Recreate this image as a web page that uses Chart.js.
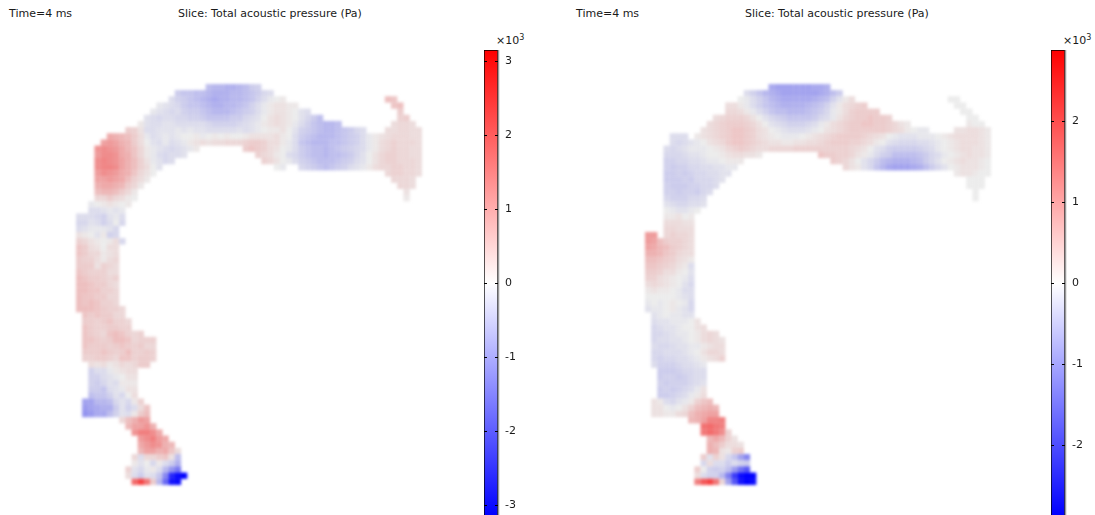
<!DOCTYPE html>
<html>
<head>
<meta charset="utf-8">
<script src="https://cdn.jsdelivr.net/npm/chart.js@4"></script>
<style>
    html, body { margin: 0; background: #fff; width: 1095px; height: 515px; overflow: hidden; }
    canvas { position: absolute; }
    .heat { filter: blur(1.6px); }
    .label { position: absolute; font: 11px "DejaVu Sans", sans-serif; color: #1a1a1a; white-space: nowrap; line-height: 13px; }
    .label sup { font-size: 8px; line-height: 0; vertical-align: 4px; }
</style>
</head>
<body>
<div class="label" style="left:9px;top:7px">Time=4 ms</div>
<div class="label" style="left:178px;top:7px">Slice: Total acoustic pressure (Pa)</div>
<div class="label" style="left:576px;top:7px">Time=4 ms</div>
<div class="label" style="left:745px;top:7px">Slice: Total acoustic pressure (Pa)</div>
<div class="label" style="left:496px;top:34px">×10<sup>3</sup></div>
<div class="label" style="left:1063px;top:34px">×10<sup>3</sup></div>

<canvas id="leftHeat" class="heat" width="346" height="401" style="left:75.5px;top:84.3px"></canvas>
<canvas id="rightHeat" class="heat" width="346" height="401" style="left:645px;top:84.3px"></canvas>
<canvas id="leftBar" width="60" height="480" style="left:484px;top:40px"></canvas>
<canvas id="rightBar" width="60" height="480" style="left:1051px;top:40px"></canvas>

<script>
// --- Data: pressure in units of 100 Pa, one run of mesh cells per entry ---
const gridCols = 56;
const gridRows = 65;

const leftTicks = [3, 2, 1, 0, -1, -2, -3];
const rightTicks = [2, 1, 0, -1, -2];
const leftRange = 3.15;
const rightRange = 2.877;

const leftRowIdx = [0, 1, 2, 2, 3, 3, 4, 4, 5, 5, 6, 6, 7, 7, 8, 9, 10, 10, 11, 11, 12, 12, 13, 13, 13, 14, 14, 15, 15, 16, 16, 17, 17, 18, 18,
    19, 20, 21, 22, 23, 24, 25, 26, 27, 28, 29, 30, 31, 32, 33, 34, 35, 36, 37, 38, 39, 40, 41, 42, 43, 44, 45, 46, 47, 48, 49, 50, 51, 52, 53,
    54, 55, 56, 57, 58, 59, 60, 61, 62, 63, 64];
const leftColIdx = [21, 16, 15, 50, 13, 51, 12, 52, 11, 52, 10, 51, 8, 50, 5, 4, 3, 27, 3, 29, 3, 30, 3, 32, 36, 3, 50, 3, 51, 3, 52, 3, 53, 3, 53,
    2, 2, 0, 0, 0, 0, 0, 0, 0, 0, 0, 0, 0, 0, 0, 0, 0, 0, 1, 1, 1, 1, 1, 1, 1, 1, 2, 2, 2, 2, 2, 2, 1, 1, 1,
    7, 8, 9, 10, 10, 10, 9, 9, 8, 8, 9];
const leftValues = [
    [-8,-9,-9,-10,-10,-9,-8,-6,-5],
    [-6,-7,-7,-8,-8,-9,-10,-10,-10,-9,-9,-8,-7,-6,-4,-3],
    [-3,-5,-6,-7,-8,-9,-10,-11,-10,-10,-9,-9,-8,-7,-5,-3,-1,0,1],
    [8,7],
    [-1,-2,-3,-4,-6,-7,-7,-8,-9,-10,-10,-9,-9,-8,-7,-5,-3,-1,1,2,2,1,1],
    [7,8],
    [-1,-2,-3,-4,-3,-5,-6,-6,-7,-8,-9,-9,-9,-8,-7,-6,-5,-3,-1,1,2,2,1,0,-2,-3],
    [6],
    [-2,-3,-4,-3,-3,-4,-4,-5,-5,-6,-7,-7,-7,-7,-6,-6,-4,-3,-2,0,2,3,2,1,0,-2,-4,-6,-8],
    [5,6],
    [1,-2,-3,-3,-2,-2,-3,-3,-3,-3,-3,-4,-5,-5,-5,-5,-4,-3,-2,-1,1,2,3,2,1,-1,-3,-5,-7,-8,-9,-9,-8],
    [3,4,4,3],
    [6,5,2,-3,-3,-2,-2,-2,-1,-2,-1,-2,-2,-3,-3,-3,-3,-3,-2,-3,-2,-1,0,1,1,2,0,-2,-5,-6,-7,-8,-9,-9,-8,-7,-6,-4,-3],
    [3,3,4,4,3,3],
    [11,10,9,8,6,3,-1,-3,-2,-1,-2,-1,0,0,1,-1,0,1,0,1,0,0,1,2,2,2,2,3,1,0,-3,-6,-7,-8,-9,-9,-9,-8,-7,-6,-5,-3,-1,1,2,3,4,4,4,3,3],
    [12,13,12,10,9,6,3,0,-2,-3,-1,-3,-2,-1,1,2,3,2,3,3,4,4,4,5,6,6,5,3,3,1,-1,-3,-7,-8,-9,-9,-9,-8,-8,-7,-6,-5,-3,-1,1,3,4,5,4,4,4,3],
    [14,15,14,13,11,9,7,4,1,-1,-2,-3,-4,-3,-2,-1,1],
    [6,7,6,5,3,2,0,-1,-3,-6,-7,-8,-8,-9,-8,-7,-6,-5,-4,-3,-1,1,3,4,5,4,4,3,3],
    [13,15,15,14,11,10,7,4,1,-1,-3,-4,-3,-3,-2],
    [5,4,3,1,0,-3,-4,-6,-7,-8,-8,-9,-8,-8,-7,-6,-4,-2,0,2,4,5,5,4,4,3,3],
    [15,16,15,14,12,10,8,5,2,-1,-2,-4,-3],
    [5,4,2,0,-1,-3,-5,-6,-7,-8,-8,-8,-7,-6,-5,-3,-2,0,2,4,5,5,4,4,4,3],
    [15,16,16,15,12,10,8,5,3,0,-2],
    [0,-1],
    [-4,-5,-6,-7,-8,-7,-6,-5,-3,-2,-1,1,3,4,4,5,5,4,4,3],
    [13,15,14,13,11,10,7,4,2,0],
    [4,5,5,4,4,3],
    [12,12,13,12,11,8,5,3,1],
    [4,4,4,3],
    [10,11,11,10,9,6,4,1],
    [4,4,3],
    [8,9,9,8,6,4,1],
    [2],
    [4,4,6,4,3,1,0],
    [1],
    [-1,0,1,2,1,0,1],
    [-3,-3,-2,-1,-2,-1],
    [-3,-3,-3,-4,-5,-2,-1,-3],
    [-4,-4,-2,-3,-5,-3,0,-4],
    [-3,-2,-1,-1,-1,-2,-4],
    [2,1,0,-2,1,-5,-4],
    [5,4,2,1,0,1,3,-4],
    [7,6,3,2,0,3,3],
    [7,6,4,4,1,2,3],
    [6,5,5,3,1,3,4],
    [6,6,6,2,5,4,3],
    [7,6,5,5,5,3,3],
    [8,7,6,6,5,4,5],
    [8,8,7,6,6,4,3],
    [8,8,7,7,5,5,4],
    [8,7,7,6,6,4,4],
    [8,7,8,7,5,5,4],
    [8,8,8,7,6,5,5,4],
    [7,6,7,6,6,4,4],
    [6,6,5,6,7,5,5,4],
    [7,6,5,5,6,6,5,5],
    [7,6,5,4,7,8,7,5,4,5],
    [7,7,6,5,6,8,8,7,4,5,5,5],
    [7,6,6,6,5,6,7,6,5,6,4,4],
    [6,6,6,7,6,5,6,8,5,5,6,5],
    [5,5,6,6,5,4,7,7,5,6,6,5],
    [3,2,3,1,2,4,3,4,6,6],
    [-5,-3,-3,-1,1,2,3,3],
    [-5,-5,-3,-2,-1,0,2,2],
    [-5,-6,-4,-2,-3,1,1,1],
    [-6,-6,-7,-3,-2,-1,2,2],
    [-8,-7,-7,-5,-2,-4,0,3],
    [-12,-12,-9,-9,-8,-4,-2,-4,1,5],
    [-13,-12,-11,-10,-10,-6,-2,-5,-3,3,7],
    [-14,-13,-11,-11,-8,-5,-2,-3,1,6,8],
    [4,8,10,13,12],
    [9,12,12,14,10],
    [14,17,17,15,11],
    [13,15,17,13,11],
    [11,13,15,14,10,9],
    [9,12,12,10,11,7,3],
    [4,-3,4,4,6,7,2,-8],
    [1,-2,0,-4,1,-3,-6,-10],
    [5,-2,-4,-1,1,-3,-9,-14,-18],
    [3,-3,-6,-2,-3,-7,-16,-27,-30,-31],
    [20,24,18,6,-9,-20,-29,-30]
];

const rightRowIdx = [0, 1, 2, 2, 3, 3, 4, 4, 5, 5, 6, 6, 7, 7, 8, 8, 9, 10, 11, 11, 12, 12, 13, 13, 14, 14, 15, 15, 16, 16, 17, 17, 18, 18,
    19, 20, 21, 22, 23, 24, 24, 25, 26, 27, 28, 29, 30, 31, 32, 33, 34, 35, 36, 37, 38, 39, 40, 41, 42, 43, 44, 45, 46, 47, 48, 49, 50, 51, 52, 53,
    54, 55, 56, 57, 58, 59, 60, 61, 62, 63, 64];
const rightColIdx = [20, 16, 15, 49, 13, 50, 13, 51, 11, 52, 10, 52, 9, 50, 4, 8, 4, 3, 3, 28, 3, 30, 3, 32, 3, 50, 3, 52, 3, 52, 3, 53, 3, 53,
    3, 3, 3, 3, 3, 0, 3, 0, 0, 0, 0, 0, 0, 0, 0, 0, 0, 0, 0, 1, 1, 1, 1, 1, 1, 1, 1, 1, 2, 2, 2, 2, 2, 1, 1, 1,
    7, 9, 9, 10, 10, 10, 9, 9, 8, 8, 8];
const rightValues = [
    [-11,-12,-12,-12,-12,-12,-12,-11,-11,-10],
    [-3,-5,-7,-9,-10,-11,-12,-12,-12,-12,-12,-12,-11,-10,-8,-6],
    [0,-1,-3,-5,-7,-9,-10,-11,-11,-11,-11,-11,-10,-9,-8,-5,-2,1,3],
    [0,0],
    [3,3,1,-1,-3,-5,-7,-8,-9,-10,-10,-10,-10,-9,-8,-7,-5,-2,1,3,4,5,6],
    [0,0],
    [4,4,3,1,-1,-3,-5,-7,-8,-8,-9,-9,-9,-8,-7,-6,-4,-1,1,3,5,6,6,6,6],
    [0,0],
    [3,4,5,5,5,4,2,0,-2,-4,-5,-6,-7,-7,-7,-7,-6,-4,-3,-1,2,4,5,6,6,7,6,6,5],
    [0,0],
    [3,4,5,6,6,6,5,4,2,0,-2,-3,-4,-5,-5,-5,-4,-3,-1,1,3,4,5,6,6,7,7,6,6,5,4,2,1],
    [1,0,0],
    [2,3,4,5,6,7,7,6,5,3,2,0,-1,-2,-3,-3,-3,-2,-1,0,2,3,4,5,6,6,6,6,6,6,5,4,3,1,0,-1,-1],
    [2,2,3,3,2,1],
    [-3,-3,-3],
    [1,2,3,4,5,6,7,7,6,5,3,2,1,0,-1,-1,-1,0,1,2,3,4,5,6,6,6,6,5,4,3,2,0,-1,-2,-2,-2,-1,-1,-1,0,1,2,3,3,3,3,2,1],
    [-3,-4,-3,-2,-1,0,2,3,4,6,7,7,6,5,4,3,2,2,1,1,2,2,3,3,4,5,6,6,6,5,5,4,3,1,0,-2,-3,-4,-4,-4,-3,-3,-2,-1,0,1,2,3,3,3,2,1],
    [-3,-4,-3,-2,-1,-1,-1,0,1,2,4,5,6,5,4,3,3,4,4,4,4,5,5,5,5,5,5,5,5,5,4,3,2,0,-2,-3,-5,-6,-6,-6,-6,-5,-4,-3,-1,0,1,2,3,3,2,2,1],
    [-4,-4,-4,-3,-2,-2,-1,0,0,1,2,3,3,2,2,1],
    [7,6,6,5,5,4,2,1,-1,-3,-5,-6,-8,-8,-8,-8,-7,-6,-4,-3,-1,0,1,2,3,2,2,1],
    [-5,-5,-4,-4,-3,-3,-2,-1,-1,0,1,1,1],
    [6,5,4,2,0,-2,-4,-6,-8,-9,-10,-10,-10,-9,-8,-6,-4,-2,0,1,2,3,2,2,1,0],
    [-5,-6,-5,-5,-4,-4,-3,-3,-2,-2,-1,-1],
    [4,2,1,-2,-4,-7,-9,-11,-12,-12,-12,-11,-10,-8,-6,-4,-2,0,1,2,2,2,1,0],
    [-6,-6,-5,-6,-5,-4,-4,-3,-3,-2,-2],
    [1,2,2,1,0,0],
    [-6,-6,-6,-5,-6,-4,-4,-4,-3,-2],
    [0,0,0],
    [-5,-6,-6,-6,-5,-5,-4,-4,-3],
    [0,0,0],
    [-5,-5,-6,-5,-5,-6,-4,-3],
    [0],
    [-4,-5,-5,-5,-4,-4,-3],
    [0],
    [-2,-3,-4,-4,-3,-3,-2],
    [0,-1,-2,-2,-1,0],
    [1,1,2,0,1],
    [3,3,3,2,2],
    [4,4,3,3,3],
    [13,13],
    [4,5,4,4,3],
    [13,12,8,6,5,5,4,3],
    [12,11,9,8,6,5,4,3],
    [10,10,9,7,6,4,3,3],
    [8,8,7,6,5,3,2,1],
    [7,7,6,5,4,2,1,-3],
    [6,6,5,3,3,1,0,-2],
    [5,5,3,2,1,0,-1,-3],
    [3,4,3,2,1,0,-2,-4],
    [1,2,1,1,0,-1,-3,-3],
    [0,0,0,0,0,-1,-2,-3],
    [-1,0,-1,0,1,0,-1,-4],
    [-2,-1,-1,0,1,-1,-2,-4],
    [-2,-1,0,-1,-1,-2,-2],
    [-3,-2,-2,-1,-1,-1,0,2],
    [-4,-3,-2,-2,-1,0,0,2,3],
    [-4,-4,-3,-2,-1,-1,0,1,3,4,3],
    [-4,-3,-3,-2,-2,-1,0,1,3,4,3,2],
    [-3,-4,-4,-3,-2,-2,-1,-1,1,2,3,3],
    [-4,-4,-3,-3,-3,-2,-1,0,2,4,4,3],
    [-4,-5,-4,-4,-3,-3,-2,-1,1,2,3,5],
    [-3,-5,-5,-5,-4,-3,-3,-2,-1],
    [-6,-6,-6,-5,-4,-4,-3,-3],
    [-6,-5,-5,-6,-5,-4,-3,-3],
    [-5,-6,-5,-5,-5,-4,-3,-2],
    [-6,-5,-6,-5,-4,-3,-1,2],
    [-6,-6,-5,-4,-3,-1,1,3],
    [2,1,-3,-4,-2,-1,1,5,7,8],
    [2,2,0,-1,0,2,5,8,9,10,9],
    [2,2,1,1,3,4,8,10,11,12,12],
    [9,10,12,16,16,17],
    [19,20,18,17],
    [18,20,18,15,5],
    [9,11,9,5,2],
    [10,8,6,3,3,2],
    [10,9,2,1,5,6],
    [6,-2,5,2,-4,-7,-12,-16],
    [-4,3,-3,-3,-6,-3,-5,-6],
    [6,0,-5,-6,-5,-8,-13,-19,-22],
    [3,-3,-5,-5,-9,-17,-25,-30,-31,-31],
    [17,22,24,18,4,-12,-22,-29,-31,-30]
];

// --- Functions ---

// grey-ish zero in the plot itself, the colour bar goes through pure white
function heatColor(v) {
    const a = Math.min(Math.abs(v), 31);
    let t = a / 44;
    if (a > 6) t = a <= 20 ? 0.136 + (a - 6) / 14 * 0.419 : 0.555 + (a - 20) / 11 * 0.445;
    const grey = Math.round(236 * (1 - t));
    const peak = Math.round(236 + 19 * t * t);
    if (v >= 0) return `rgb(${peak},${grey},${grey})`;
    return `rgb(${grey},${grey},${peak})`;
}

function buildCells(rowIdx, colIdx, values) {
    const cells = [];
    values.forEach((run, i) => {
        run.forEach((v, j) => {
            cells.push({ x: colIdx[i] + j + 0.5, y: rowIdx[i] + 0.5, v: v });
        });
    });
    return cells;
}

function drawHeat(id, cells) {
    new Chart(document.getElementById(id), {
        type: 'scatter',
        data: {
            datasets: [{
                data: cells,
                pointStyle: 'rect',
                pointRadius: 4.5,
                pointBorderWidth: 0,
                pointBackgroundColor: ctx => heatColor(ctx.raw.v)
            }]
        },
        options: {
            responsive: false,
            animation: false,
            events: [],
            layout: { autoPadding: false },
            plugins: { legend: { display: false }, tooltip: { enabled: false } },
            scales: {
                x: { type: 'linear', display: false, min: 0, max: gridCols },
                y: { type: 'linear', display: false, min: 0, max: gridRows, reverse: true }
            }
        }
    });
}

// ticks sit inside the bar on both edges, plus the grey edge on the right
const barTicks = {
    id: 'barTicks',
    afterDatasetsDraw(chart) {
        const { ctx, chartArea, scales } = chart;
        ctx.save();
        ctx.strokeStyle = '#999';
        ctx.lineWidth = 1.5;
        ctx.beginPath();
        ctx.moveTo(chartArea.right + 0.5, chartArea.top);
        ctx.lineTo(chartArea.right + 0.5, chartArea.bottom);
        ctx.stroke();
        ctx.strokeStyle = '#000';
        ctx.lineWidth = 1;
        scales.y.ticks.forEach(tick => {
            const y = Math.round(scales.y.getPixelForValue(tick.value)) + 0.5;
            ctx.beginPath();
            ctx.moveTo(chartArea.left, y);
            ctx.lineTo(chartArea.left + 3, y);
            ctx.moveTo(chartArea.right - 3, y);
            ctx.lineTo(chartArea.right, y);
            ctx.stroke();
        });
        ctx.restore();
    }
};

function drawBar(id, range, ticks) {
    new Chart(document.getElementById(id), {
        type: 'bar',
        data: {
            labels: ['p'],
            datasets: [{
                data: [[-range, range]],
                barPercentage: 1,
                categoryPercentage: 1,
                borderColor: '#000',
                borderWidth: 1,
                borderSkipped: false,
                backgroundColor: ctx => {
                    const area = ctx.chart.chartArea;
                    if (!area) return '#fff';
                    const gradient = ctx.chart.ctx.createLinearGradient(0, area.top, 0, area.bottom);
                    gradient.addColorStop(0, '#ff0000');
                    gradient.addColorStop(0.5, '#ffffff');
                    gradient.addColorStop(1, '#0000ff');
                    return gradient;
                }
            }]
        },
        options: {
            responsive: false,
            animation: false,
            events: [],
            layout: { autoPadding: false, padding: { top: 10, bottom: 4 } },
            plugins: { legend: { display: false }, tooltip: { enabled: false } },
            scales: {
                x: { display: false },
                y: {
                    position: 'right',
                    min: -range,
                    max: range,
                    border: { display: false },
                    grid: { display: false, drawTicks: false },
                    afterBuildTicks: scale => { scale.ticks = ticks.map(v => ({ value: v })); },
                    afterFit: scale => {
                        scale.width = 46;
                        scale.paddingTop = 0;
                        scale.paddingBottom = 0;
                    },
                    ticks: {
                        color: '#1a1a1a',
                        padding: 7,
                        font: { family: 'DejaVu Sans', size: 11 },
                        callback: v => String(v)
                    }
                }
            }
        },
        plugins: [barTicks]
    });
}

// --- Initialization ---
drawHeat('leftHeat', buildCells(leftRowIdx, leftColIdx, leftValues));
drawHeat('rightHeat', buildCells(rightRowIdx, rightColIdx, rightValues));
drawBar('leftBar', leftRange, leftTicks);
drawBar('rightBar', rightRange, rightTicks);
</script>
</body>
</html>
